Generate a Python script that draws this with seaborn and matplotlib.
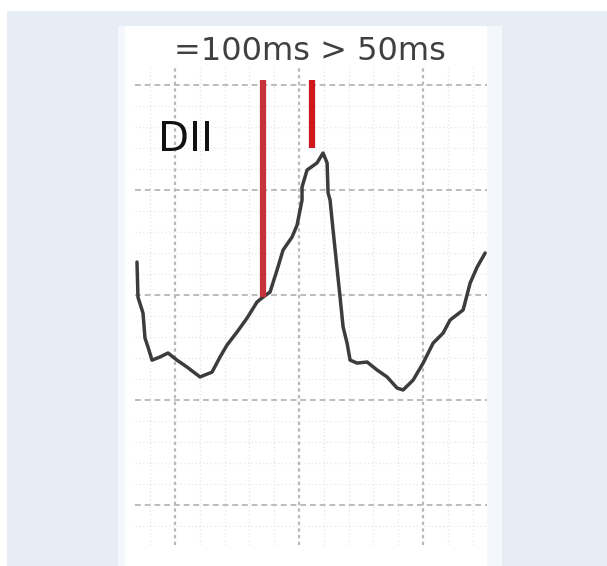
import numpy as np
import pandas as pd
import matplotlib
matplotlib.use("Agg")
import matplotlib.pyplot as plt
import seaborn as sns
from matplotlib.patches import Rectangle

# ECG trace (time in ms, amplitude in mV)
time_ms = [-61.3, -59.7, -51.6, -48.4, -43.5, -37.1, -24.2, -11.3, 3.2, 19.4,
           40.3, 59.7, 72.6, 83.9, 100.0, 116.1, 132.3, 141.9, 153.2, 164.5,
           174.2, 188.7, 196.8, 204.8, 204.8, 212.9, 229.0, 238.7, 245.2, 246.8,
           250.0, 254.8, 266.1, 271.0, 277.4, 282.3, 293.5, 309.7, 325.8, 341.9,
           358.1, 367.7, 383.9, 400.0, 416.1, 432.3, 443.5, 464.5, 475.8, 487.1,
           500.0]
amp_mv = [0.157, -0.010, -0.086, -0.205, -0.248, -0.310, -0.295, -0.276, -0.310, -0.343,
          -0.390, -0.367, -0.295, -0.238, -0.176, -0.110, -0.033, -0.010, 0.014, 0.119,
          0.214, 0.276, 0.333, 0.452, 0.514, 0.595, 0.629, 0.676, 0.629, 0.486,
          0.452, 0.310, -0.010, -0.152, -0.229, -0.310, -0.324, -0.319, -0.357, -0.390,
          -0.443, -0.452, -0.405, -0.324, -0.229, -0.181, -0.119, -0.071, 0.057, 0.133,
          0.200]

# red marker lines: x position, bottom, top
marker_x = [141.9, 221.0]
marker_bottom = [-0.010, 0.700]
marker_top = [1.024, 1.024]
marker_colors = ["#c5323a", "#d0161f"]

title_text = "=100ms > 50ms"
lead_label = "DII"

sns.set_style("white")

W, H = 607, 566
fig = plt.figure(figsize=(W / 100, H / 100), dpi=100)
fig.patch.set_facecolor("white")

def px_rect(x0, y0, x1, y1):
    return [x0 / W, 1 - y1 / H, (x1 - x0) / W, (y1 - y0) / H]

# background layers
fig.patches.append(Rectangle((7 / W, 0), 1 - 7 / W, 1 - 11 / H, transform=fig.transFigure,
                             facecolor="#e6edf5", edgecolor="none", zorder=-10))
fig.patches.append(Rectangle((118 / W, 0), (502 - 118) / W, 1 - 26 / H, transform=fig.transFigure,
                             facecolor="#f4f8fc", edgecolor="none", zorder=-9))
fig.patches.append(Rectangle((125 / W, 0), (487 - 125) / W, 1 - 26 / H, transform=fig.transFigure,
                             facecolor="white", edgecolor="none", zorder=-8))

ax = fig.add_axes(px_rect(135, 65, 487, 545))
ax.set_facecolor("none")
ax.set_xlim(-64.5, 503)
ax.set_ylim(-1.19, 1.095)

# grid
for xv in np.arange(-40, 501, 40):
    major = abs(xv % 200) < 1e-6
    ax.axvline(xv, color="#b8b8b8" if major else "#e4e4e4",
               lw=1.6 if major else 0.9, ls=(0, (1.5, 1.5)) if major else (0, (1, 2)), zorder=1)
for yv in np.arange(-1.1, 1.05, 0.1):
    major = abs(round(yv * 10) % 5) == 0
    ax.axhline(yv, color="#bcbcbc" if major else "#e6e6e6",
               lw=1.4 if major else 0.9, ls=(0, (3, 2)) if major else (0, (1, 2)), zorder=1)

df = pd.DataFrame({"t": time_ms, "v": amp_mv})
sns.lineplot(data=df, x="t", y="v", ax=ax, color="#3c3c3c", lw=2.5, sort=False,
             estimator=None, zorder=3)

for xm, b, t, c in zip(marker_x, marker_bottom, marker_top, marker_colors):
    ax.plot([xm, xm], [b, t], color=c, lw=4.5, solid_capstyle="butt", zorder=4)

ax.set_xlabel("")
ax.set_ylabel("")
ax.set_xticks([])
ax.set_yticks([])
for s in ax.spines.values():
    s.set_visible(False)

fig.text(310 / W, 1 - 52 / H, title_text, ha="center", va="center",
         fontsize=23, color="#404040", family="DejaVu Sans")
fig.text(158 / W, 1 - 140 / H, lead_label, ha="left", va="center",
         fontsize=29, color="#111111", family="DejaVu Sans")

fig.savefig("out.png", dpi=100, facecolor=fig.get_facecolor())
